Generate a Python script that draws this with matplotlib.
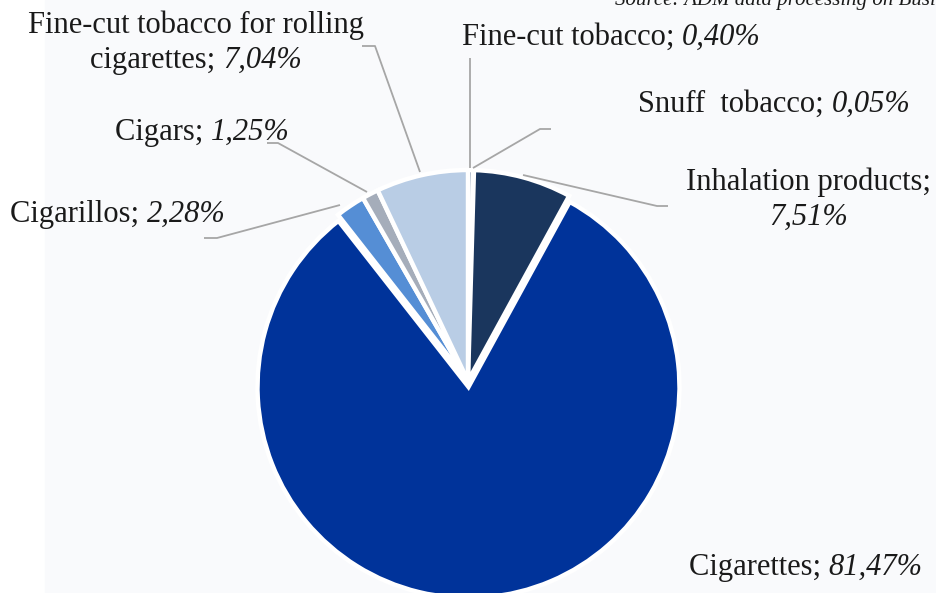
import matplotlib
matplotlib.use("Agg")
import matplotlib.pyplot as plt
from matplotlib.patches import Rectangle

# data (clockwise from 12 o'clock)
categories = ["Fine-cut tobacco", "Snuff  tobacco", "Inhalation products",
              "Cigarettes", "Cigarillos", "Cigars",
              "Fine-cut tobacco for rolling cigarettes"]
shares = [0.40, 0.05, 7.51, 81.47, 2.28, 1.25, 7.04]
value_labels = ["0,40%", "0,05%", "7,51%", "81,47%", "2,28%", "1,25%", "7,04%"]
colors = ["#8497b0", "#d9d9d9", "#1a365d", "#00339a", "#558ed5", "#a5adba", "#b9cde5"]

W, H = 936, 593
FONT = "Liberation Serif"
FS = 22
TXT = "#1a1a1a"
LEAD = "#a6a6a6"

fig = plt.figure(figsize=(W / 100, H / 100), dpi=100)
ax = fig.add_axes([0, 0, 1, 1])
ax.set_xlim(0, W)
ax.set_ylim(0, H)
ax.axis("off")
ax.add_patch(Rectangle((45, 0), W - 45, H, color="#f9fafc", zorder=0))

# explode is in data units here (axes is laid out in pixels)
ax.pie(shares, colors=colors, startangle=90, counterclock=False,
       center=(468, H - 381), radius=211,
       explode=[0, 0, 0, 6, 0, 0, 0],
       wedgeprops=dict(edgecolor="white", linewidth=3.2))
ax.set_xlim(0, W)
ax.set_ylim(0, H)

renderer = fig.canvas.get_renderer()


def rich(x, y, parts, ha="left"):
    """draw a line of mixed normal / italic text, baseline at pixel y"""
    objs = [ax.text(0, H - y, t, fontsize=FS, family=FONT, fontstyle=s,
                    color=TXT, va="baseline", ha="left") for t, s in parts]
    widths = [o.get_window_extent(renderer).width for o in objs]
    total = sum(widths)
    x0 = x - total / 2 if ha == "center" else (x - total if ha == "right" else x)
    for o, w in zip(objs, widths):
        o.set_x(x0)
        x0 += w


def leader(pts):
    ax.plot([p[0] for p in pts], [H - p[1] for p in pts], color=LEAD, lw=1.3,
            solid_capstyle="butt", zorder=1)


# labels (positions in pixels, y from top)
rich(196, 33, [("Fine-cut tobacco for rolling", "normal")], "center")
rich(196, 68, [("cigarettes; ", "normal"), (value_labels[6], "italic")], "center")
rich(462, 45, [(categories[0] + "; ", "normal"), (value_labels[0], "italic")])
rich(638, 112, [(categories[1] + "; ", "normal"), (value_labels[1], "italic")])
rich(809, 190, [(categories[2] + ";", "normal")], "center")
rich(809, 225, [(value_labels[2], "italic")], "center")
rich(115, 140, [(categories[5] + "; ", "normal"), (value_labels[5], "italic")])
rich(10, 222, [(categories[4] + "; ", "normal"), (value_labels[4], "italic")])
rich(689, 575, [(categories[3] + "; ", "normal"), (value_labels[3], "italic")])

leader([(362, 46), (375, 46), (420, 172)])
leader([(470, 58), (470, 168)])
leader([(551, 129), (540, 129), (473, 168)])
leader([(668, 206), (657, 206), (523, 175)])
leader([(267, 143), (278, 143), (367, 192)])
leader([(204, 238), (217, 238), (340, 205)])

ax.text(615, H - 5, "Source: ADM data processing on Business Insights data",
        fontsize=15, family=FONT, fontstyle="italic", color=TXT, va="baseline")

fig.savefig("out.png", dpi=100, facecolor="white")
